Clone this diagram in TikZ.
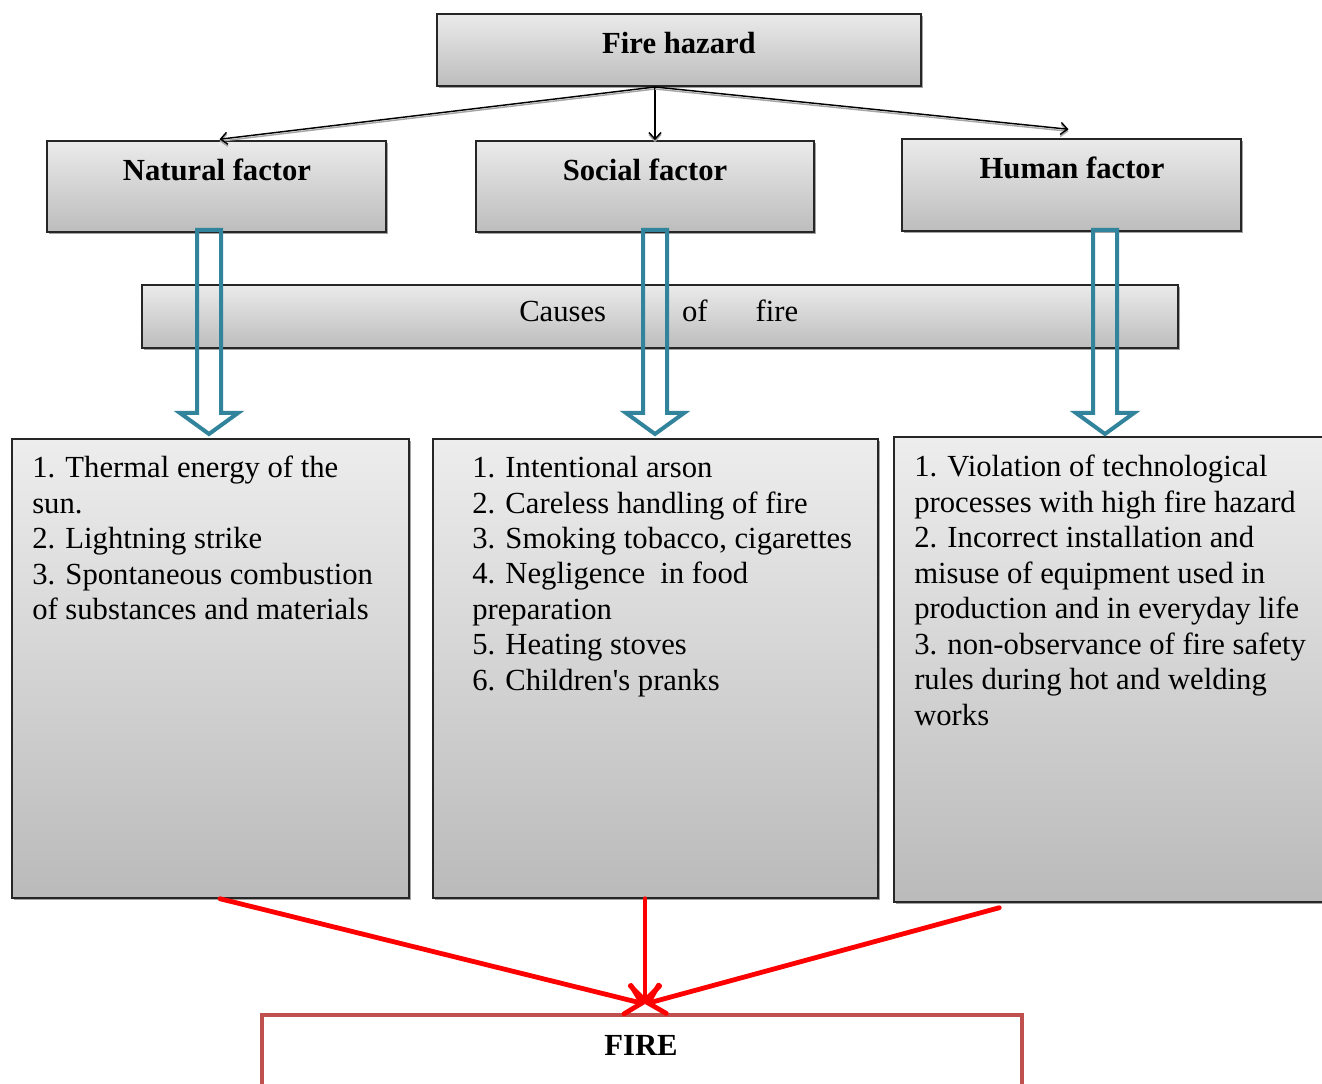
\documentclass[tikz,border=0pt]{standalone}
\usepackage{fontspec}
\setmainfont{Liberation Serif}
\usetikzlibrary{arrows.meta,calc,fit,shadows}
\definecolor{arrteal}{RGB}{49,132,155}
\definecolor{firered}{RGB}{192,80,77}
\newcommand\harrow[1]{\draw[hollow] (#1-12,230) -- (#1-12,413) -- (#1-29,413) -- (#1,434) -- (#1+29,413) -- (#1+12,413) -- (#1+12,230) -- cycle;}
\begin{document}
\begin{tikzpicture}[x=0.75pt,y=-0.75pt,
 gbox/.style={draw=black!85, line width=1.1pt, top color=black!8, bottom color=black!26,
   drop shadow={shadow xshift=1.5pt, shadow yshift=-1.5pt, fill=black!45, opacity=0.8}, inner sep=0pt},
 head/.style={font=\fontsize{23}{27}\selectfont\bfseries, inner sep=0pt},
 body/.style={font=\fontsize{23}{26.6}\selectfont, align=left, inner sep=0pt, anchor=north west},
 conn/.style={line width=1.1pt, -{Straight Barb[length=5pt,width=9pt]},
   preaction={draw=black!35, line width=1.1pt, transform canvas={yshift=-1.5pt}}},
 hollow/.style={draw=arrteal, line width=3pt, line join=miter},
 redarr/.style={draw=red, line width=3.6pt, line cap=round, -{Straight Barb[length=11pt,width=22pt,line cap=round]}}]
\clip (0,0) rectangle (1322,1084);
\fill[white] (0,0) rectangle (1322,1084);

% boxes
\node[gbox, fit={(437,14)(921,86)}] (fh) {};
\node[head] (fht) at (679,43) {Fire hazard};
\node[gbox, fit={(47,141)(386,232)}] (nat) {};
\node[head] (natt) at (217,170) {Natural factor};
\node[gbox, fit={(476,141)(814,232)}] (soc) {};
\node[head] (soct) at (645,170) {Social factor};
\node[gbox, fit={(902,139)(1241,231)}] (hum) {};
\node[head] (humt) at (1072,168) {Human factor};
\node[gbox, fit={(142,285)(1178,348)}] (cau) {};
\node[font=\fontsize{23}{27}\selectfont, anchor=mid west, inner sep=0pt] (caut) at (519,318) {Causes\hspace*{57pt}of\hspace*{36pt}fire};

\node[gbox, top color=black!7, bottom color=black!27, fit={(12,439)(409,898)}] (lb) {};
\node[body] (lbt) at (32,456) {1. Thermal energy of the\\sun.\\2. Lightning strike\\3. Spontaneous combustion\\of substances and materials};
\node[gbox, top color=black!7, bottom color=black!27, fit={(433,439)(878,898)}] (mb) {};
\node[body] (mbt) at (472,456) {1. Intentional arson\\2. Careless handling of fire\\3. Smoking tobacco, cigarettes\\4. Negligence\ \ in food\\preparation\\5. Heating stoves\\6. Children\textquotesingle s pranks};
\node[gbox, top color=black!7, bottom color=black!27, fit={(894,437)(1330,902)}] (rb) {};
\node[body] (rbt) at (914,455) {1. Violation of technological\\processes with high fire hazard\\2. Incorrect installation and\\misuse of equipment used in\\production and in everyday life\\3. non-observance of fire safety\\rules during hot and welding\\works};

\node[fit={(262,1015)(1022,1095)}, draw=firered, line width=3pt, fill=white, inner sep=0pt] (fire) {};
\node[head] (firet) at (641,1045) {FIRE};

% top connectors
\coordinate (fhs) at (655,87);
\draw[conn] (fhs) -- ($(nat.north)+(3,-1)$);
\draw[conn] (fhs) -- (fhs |- soc.north);
\draw[conn] (fhs) -- ($(hum.north)+(-3,-9)$);

% hollow arrows
\harrow{209}
\harrow{655}
\harrow{1105}

% red arrows
\coordinate (ft) at (645,1004);
\draw[redarr] ($(lb.south)+(9.5,0)$) -- (ft);
\draw[redarr] ($(mb.south)+(-10.5,0)$) -- (ft);
\draw[redarr] ($(rb.south west)+(106,5)$) -- (ft);
\end{tikzpicture}
\end{document}
